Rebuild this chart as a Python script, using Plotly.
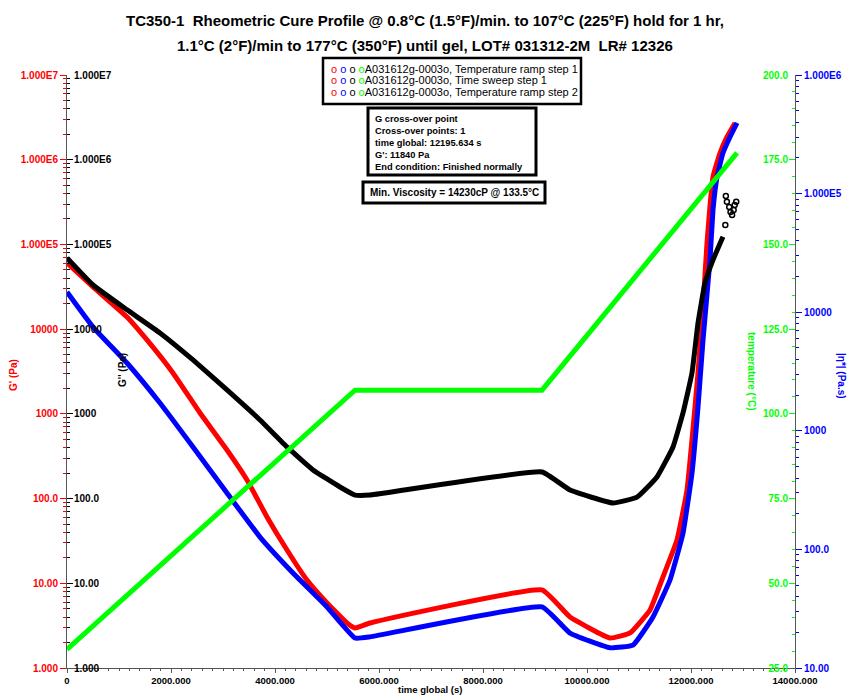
import plotly.graph_objects as go

# ---------------- data ----------------
# G' (Pa) - red, left axis
time_gp = [0, 500, 1154, 1538, 2038, 2558, 3077, 3462, 3846, 4231, 4615, 5000, 5385, 5538,
           5827, 9135, 9673, 10442, 10827, 11212, 11462, 11731, 11923, 12019, 12135, 12231,
           12308, 12423, 12558, 12692, 12846]
g_prime = [60500, 31500, 13900, 7450, 3040, 1025, 375, 166, 60.7, 24.7, 10.9, 5.85, 3.40, 2.97,
           3.40, 8.34, 4.0, 2.26, 2.59, 4.84, 11.9, 32.5, 126, 492, 3040, 18300,
           104000, 627000, 1200000, 1860000, 2720000]

# G'' (Pa) - black, left axis (inner labels)
time_gpp = [0, 500, 1154, 1788, 2423, 3077, 3712, 4231, 4731, 5250, 5538, 5827, 9135, 9673,
            10500, 10962, 11346, 11654, 11846, 12019, 12135, 12269, 12423, 12615]
g_double = [69300, 33200, 16900, 9020, 4330, 1915, 847, 407, 218, 137, 110, 110, 206, 126,
            88.7, 104, 180, 407, 1025, 3040, 11840, 35100, 65600, 123000]
# scattered G'' points at the end of the run
time_gpp_tail = [12660, 12670, 12690, 12735, 12760, 12790, 12820, 12840, 12870]
g_double_tail = [170000, 374000, 318000, 277000, 242000, 223000, 255000, 293000, 318000]

# |eta*| (Pa.s) - blue, right axis (outer labels)
time_eta = [0, 500, 1154, 1788, 2423, 3077, 3712, 4346, 5000, 5538, 5827, 9135, 9673, 10442,
            10885, 11269, 11596, 11846, 12019, 12135, 12231, 12365, 12423, 12500, 12615, 12750, 12885]
eta = [14800, 7500, 3730, 1715, 730, 299, 127, 63.2, 32.7, 17.9, 18.3, 32.7, 19.7, 14.8,
       15.6, 26.9, 55.2, 137, 440, 1590, 5830, 27500, 72800, 138000, 220000, 300000, 394000]

# temperature (°C) - green, right axis (inner labels)
time_temp = [0, 5538, 9135, 12885]
temp = [30.5, 107.0, 107.0, 177.0]

# axis ticks
x_ticks = [0, 2000, 4000, 6000, 8000, 10000, 12000, 14000]
x_ticklabels = ["0", "2000.000", "4000.000", "6000.000", "8000.000", "10000.000", "12000.000", "14000.000"]
g_ticks = [1, 10, 100, 1000, 10000, 1e5, 1e6, 1e7]
g_ticklabels = ["1.000", "10.00", "100.0", "1000", "10000", "1.000E5", "1.000E6", "1.000E7"]
eta_ticks = [10, 100, 1000, 10000, 1e5, 1e6]
eta_ticklabels = ["10.00", "100.0", "1000", "10000", "1.000E5", "1.000E6"]
t_ticks = [25, 50, 75, 100, 125, 150, 175, 200]
t_ticklabels = ["25.0", "50.0", "75.0", "100.0", "125.0", "150.0", "175.0", "200.0"]

title_l1 = "TC350-1  Rheometric Cure Profile @ 0.8°C (1.5°F)/min. to 107°C (225°F) hold for 1 hr,"
title_l2 = "1.1°C (2°F)/min to 177°C (350°F) until gel, LOT# 031312-2M  LR# 12326"
legend_lines = ["A031612g-0003o, Temperature ramp step 1",
                "A031612g-0003o, Time sweep step 1",
                "A031612g-0003o, Temperature ramp step 2"]
cross_lines = ["G cross-over point", "Cross-over points: 1", "time global: 12195.634 s",
               "G': 11840 Pa", "End condition: Finished normally"]
min_visc = "Min. Viscosity = 14230cP @ 133.5°C"

# ---------------- styling helpers ----------------
RED, BLUE, GREEN, BLACK = "#ff0000", "#0000ff", "#00ff00", "#000000"
AX = "#555555"
FA = "Liberation Sans, Arial, sans-serif"

L, R, T, B = 67, 795, 75, 668  # plot area in pixels


def pxx(x):
    return (x - L) / (R - L)


def pxy(y):
    return (B - y) / (B - T)


def minor_log(lo, hi):
    return [m * 10 ** e for e in range(lo, hi) for m in range(2, 10)]


SM = 0.35
fig = go.Figure()
fig.add_trace(go.Scatter(x=time_gp, y=g_prime, mode="lines", yaxis="y",
                         line=dict(color=RED, width=5, shape="spline", smoothing=SM)))
fig.add_trace(go.Scatter(x=time_eta, y=eta, mode="lines", yaxis="y2",
                         line=dict(color=BLUE, width=5, shape="spline", smoothing=SM)))
fig.add_trace(go.Scatter(x=time_gpp, y=g_double, mode="lines", yaxis="y3",
                         line=dict(color=BLACK, width=5, shape="spline", smoothing=SM)))
fig.add_trace(go.Scatter(x=time_gpp_tail, y=g_double_tail, mode="markers", yaxis="y3",
                         marker=dict(symbol="circle-open", size=5, color=BLACK, line=dict(width=1.5))))
fig.add_trace(go.Scatter(x=time_temp, y=temp, mode="lines", yaxis="y4",
                         line=dict(color=GREEN, width=5)))


def tf(c, s=10):
    return dict(family=FA, size=s, color=c, weight="bold")


fig.update_layout(
    width=850, height=696, autosize=False,
    margin=dict(l=L, r=850 - R, t=T, b=696 - B, autoexpand=False),
    paper_bgcolor="white", plot_bgcolor="white", showlegend=False,
    xaxis=dict(range=[0, 14000], tickmode="array", tickvals=x_ticks, ticktext=x_ticklabels,
               showline=True, linecolor=AX, linewidth=1, ticks="outside", ticklen=4, tickcolor=AX,
               minor=dict(dtick=200, ticks="outside", ticklen=2, tickcolor=AX),
               showgrid=False, zeroline=False, tickfont=tf(BLACK, 9.5), automargin=False,
               ticklabeloverflow="allow", ticklabelstandoff=0),
    yaxis=dict(type="log", range=[0, 7], side="left", tickmode="array", tickvals=g_ticks,
               ticktext=g_ticklabels, showline=True, linecolor=AX, linewidth=1,
               ticks="outside", ticklen=6, tickcolor=RED,
               minor=dict(tickmode="array", tickvals=minor_log(0, 7), ticks="outside", ticklen=3, tickcolor=RED),
               showgrid=False, zeroline=False, tickfont=tf(RED), automargin=False,
               ticklabeloverflow="allow"),
    yaxis2=dict(type="log", range=[1, 6], side="right", overlaying="y", anchor="x",
                tickmode="array", tickvals=eta_ticks, ticktext=eta_ticklabels,
                showline=True, linecolor=AX, linewidth=1, ticks="outside", ticklen=6, tickcolor=BLUE,
                minor=dict(tickmode="array", tickvals=minor_log(1, 6), ticks="outside", ticklen=3, tickcolor=BLUE),
                showgrid=False, zeroline=False, tickfont=tf(BLUE), automargin=False,
                ticklabeloverflow="allow"),
    yaxis3=dict(type="log", range=[0, 7], side="left", overlaying="y", anchor="x",
                tickmode="array", tickvals=g_ticks, ticktext=g_ticklabels, ticklabelposition="inside",
                showline=False, ticks="inside", ticklen=6, tickcolor=BLACK,
                minor=dict(tickmode="array", tickvals=minor_log(0, 7), ticks="inside", ticklen=3, tickcolor=BLACK),
                showgrid=False, zeroline=False, tickfont=tf(BLACK), automargin=False,
                ticklabeloverflow="allow"),
    yaxis4=dict(range=[25, 200], side="right", overlaying="y", anchor="x",
                tickmode="array", tickvals=t_ticks, ticktext=t_ticklabels, ticklabelposition="inside",
                showline=False, ticks="inside", ticklen=6, tickcolor=GREEN,
                minor=dict(dtick=5, tick0=25, ticks="inside", ticklen=3, tickcolor=GREEN),
                showgrid=False, zeroline=False, tickfont=tf(GREEN), automargin=False,
                ticklabeloverflow="allow"),
)


def label(text, x, y, color, angle=0, size=10, xanchor="center", yanchor="middle", align="center"):
    return dict(text=text, x=pxx(x), y=pxy(y), xref="paper", yref="paper", textangle=angle,
                xanchor=xanchor, yanchor=yanchor, align=align, showarrow=False,
                font=dict(family=FA, size=size, color=color))


ann = []
# title
ann.append(label("<b>" + title_l1 + "</b>", 425, 20, BLACK, size=15))
ann.append(label("<b>" + title_l2 + "</b>", 425, 45, BLACK, size=15))
# axis titles
ann.append(label("<b>G' (Pa)</b>", 13, 375, RED, angle=-90))
ann.append(label("<b>G'' (Pa)</b>", 122, 370, BLACK, angle=-90))
ann.append(label("<b>temperature (°C)</b>", 752, 371, GREEN, angle=90))
ann.append(label("<b>|η*| (Pa.s)</b>", 842, 376, BLUE, angle=90))
ann.append(label("<b>time global (s)</b>", 430, 689, BLACK, size=9.5))
# legend box text
dots = ("<span style='color:%s'>o</span> <span style='color:%s'>o</span> "
        "<span style='color:%s'>o</span> <span style='color:%s'>o</span>" % (RED, BLUE, BLACK, GREEN))
for i, line in enumerate(legend_lines):
    ann.append(label(dots + line, 329, 69 + 11.3 * i, BLACK, size=11, xanchor="left"))
# cross-over box text
ann.append(label("<br>".join("<b>%s</b>" % s for s in cross_lines), 373, 112, BLACK, size=9.3,
                 xanchor="left", yanchor="top", align="left"))
ann.append(label("<b>%s</b>" % min_visc, 454, 192.5, BLACK))
fig.update_layout(annotations=ann)

shapes = []
for (x0, y0, x1, y1, w) in [(323, 58, 581, 104, 2.5), (368, 108, 536, 175, 3), (363, 182, 545, 203, 3)]:
    shapes.append(dict(type="rect", xref="paper", yref="paper", x0=pxx(x0), x1=pxx(x1), y0=pxy(y1), y1=pxy(y0),
                       line=dict(color=BLACK, width=w), fillcolor="white"))
fig.update_layout(shapes=shapes)

fig.write_html("out.html")
